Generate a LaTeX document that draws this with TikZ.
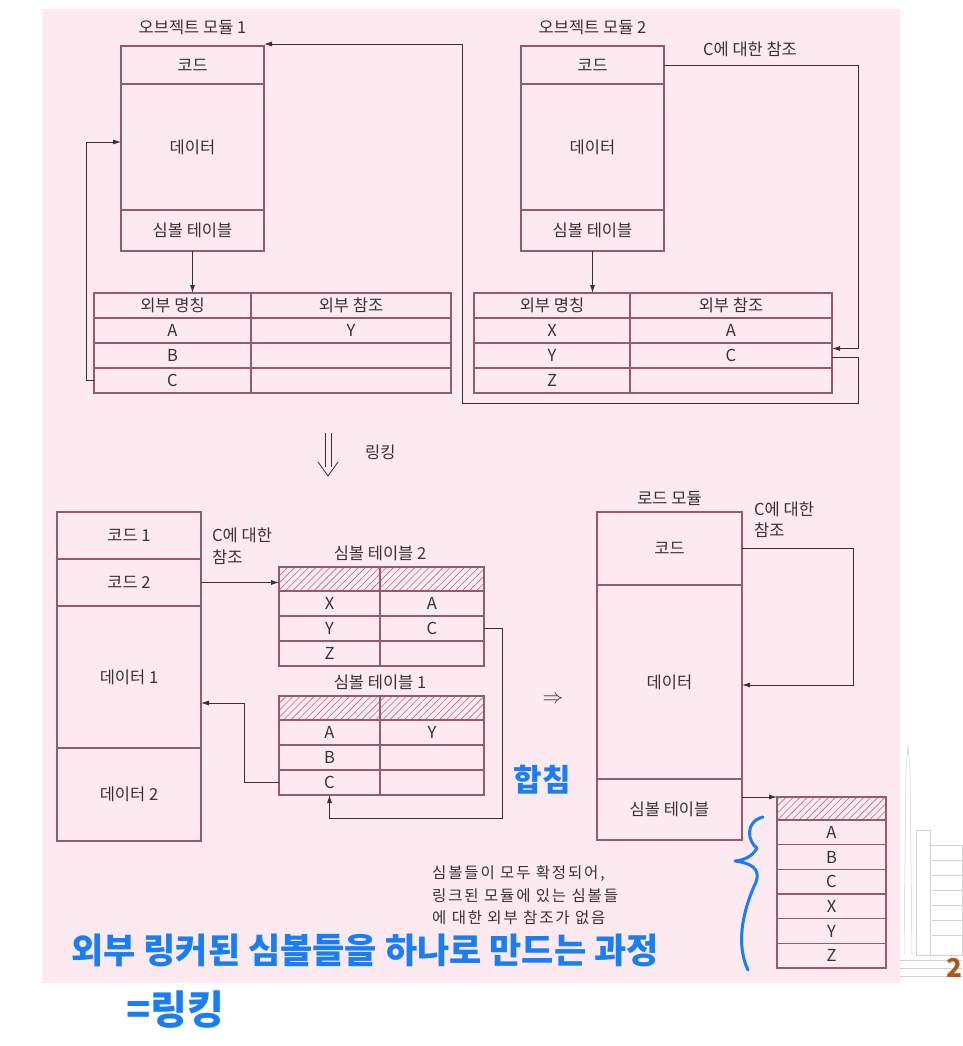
\documentclass[tikz,border=0pt]{standalone}
\usepackage{fontspec}
\setmainfont{Noto Sans CJK KR}
\newfontfamily\notefont{Noto Sans CJK KR}[LetterSpace=12]
\usetikzlibrary{arrows.meta,positioning,patterns.meta,calc}
\definecolor{bgpink}{RGB}{252,234,240}
\definecolor{boxcol}{RGB}{150,90,110}
\definecolor{conncol}{RGB}{55,50,55}
\definecolor{txtcol}{RGB}{55,50,55}
\definecolor{handblue}{RGB}{25,125,245}
\definecolor{hatchcol}{RGB}{170,110,135}
\definecolor{pagecol}{RGB}{175,85,25}
\newcommand\lblfont{\fontsize{16.5pt}{21pt}\selectfont}

\begin{document}
\begin{tikzpicture}[x=1pt, y=-1pt,
  sect/.style={draw=boxcol, line width=1.4pt, inner sep=0pt, outer sep=0pt,
               minimum width=#1, font=\lblfont, text=txtcol},
  sect/.default=143pt,
  hatch/.style={sect=#1, minimum height=24pt,
                pattern={Lines[angle=45,distance=5pt,line width=0.6pt]},
                pattern color=hatchcol},
  modtitle/.style={font=\lblfont, text=txtcol, inner sep=1pt},
  conn/.style={draw=conncol, line width=0.8pt, -{Latex[length=8pt,width=5pt]}},
  hand/.style={text=handblue, font=\bfseries\fontsize{#1}{#1}\selectfont, inner sep=0pt},
  >=Latex
]
  \useasboundingbox (0,0) rectangle (962,1046);
  \fill[white] (0,0) rectangle (962,1046);
  \fill[bgpink] (42,9) rectangle (900,983);

  % Object module 1
  \node[sect, minimum height=38pt] (m1code) at (192.5,65) {코드};
  \node[sect, minimum height=126pt, below=0pt of m1code] (m1data) {데이터};
  \node[sect, minimum height=41pt, below=0pt of m1data] (m1sym) {심볼 테이블};
  \node[modtitle, above=10pt of m1code] (m1title) {오브젝트 모듈 1};

  % Object module 2
  \node[sect, minimum height=38pt] (m2code) at (592.5,65) {코드};
  \node[sect, minimum height=126pt, below=0pt of m2code] (m2data) {데이터};
  \node[sect, minimum height=41pt, below=0pt of m2data] (m2sym) {심볼 테이블};
  \node[modtitle, above=10pt of m2code] (m2title) {오브젝트 모듈 2};

  % External name tables
  \foreach \a/\b [count=\r] in {외부 명칭/외부 참조, A/Y, B/{}, C/{}} {
    \node[sect=157pt, minimum height=25pt] (ta\r1) at (172.5,280.5+25*\r) {\a};
    \node[sect=200pt, minimum height=25pt] (ta\r2) at (351,280.5+25*\r) {\b};
  }
  \foreach \a/\b [count=\r] in {외부 명칭/외부 참조, X/A, Y/C, Z/{}} {
    \node[sect=156pt, minimum height=25pt] (tb\r1) at (552,280.5+25*\r) {\a};
    \node[sect=202pt, minimum height=25pt] (tb\r2) at (731,280.5+25*\r) {\b};
  }

  \draw[conn] (m1sym.south) -- (m1sym.south |- ta11.north);
  \draw[conn] (m2sym.south) -- (m2sym.south |- tb11.north);
  \coordinate (c1turn) at (86,0);
  \draw[conn] (ta41.west) -- (ta41.west -| c1turn) |- ([yshift=5pt]m1data.west);

  % Reference to C
  \coordinate (c2turn) at (858,403);
  \coordinate (c3turn) at (462,44);
  \node[modtitle] (c2label) at (750,49) {C에 대한 참조};
  \draw[conn] (m2code.east) -| ([yshift=7pt]tb32.east -| c2turn) -- ([yshift=7pt]tb32.east);
  \draw[conn] ([yshift=-2pt]tb32.east) -| (c2turn) -| (c3turn) -- ([yshift=2pt]m1code.north east);

  % Linking
  \coordinate (lk1) at (328,433);
  \coordinate (lk2) at (328,476);
  \draw[conncol, line width=0.8pt] ($(lk1)+(-3,0)$) -- ($(lk2)+(-3,-9)$);
  \draw[conncol, line width=0.8pt] ($(lk1)+(3,0)$) -- ($(lk2)+(3,-9)$);
  \draw[conncol, line width=0.8pt, line join=miter] ($(lk2)+(-10,-14)$) -- (lk2) -- ($(lk2)+(10,-14)$);
  \node[modtitle, anchor=west] (lklabel) at (364,452) {링킹};

  % Combined code and data
  \node[sect=144pt, minimum height=47pt] (lc1) at (129,535.5) {코드 1};
  \node[sect=144pt, minimum height=47pt, below=0pt of lc1] (lc2) {코드 2};
  \node[sect=144pt, minimum height=142pt, below=0pt of lc2] (ld1) {데이터 1};
  \node[sect=144pt, minimum height=93pt, below=0pt of ld1] (ld2) {데이터 2};
  \node[modtitle, anchor=west, align=left, font=\fontsize{16.5pt}{22pt}\selectfont] (c4label) at (211,546) {C에 대한\\참조};

  % Symbol table 2
  \node[hatch=101pt] (sbh1) at (329.5,579) {};
  \node[hatch=104pt] (sbh2) at (432,579) {};
  \foreach \a/\b [count=\r] in {X/A, Y/C, Z/{}} {
    \node[sect=101pt, minimum height=25pt] (sb\r1) at (329.5,578.5+25*\r) {\a};
    \node[sect=104pt, minimum height=25pt] (sb\r2) at (432,578.5+25*\r) {\b};
  }
  \node[modtitle, above=5pt of sbh1.north east] (sbtitle) {심볼 테이블 2};

  % Symbol table 1
  \node[hatch=101pt] (sah1) at (329.5,708) {};
  \node[hatch=104pt] (sah2) at (432,708) {};
  \foreach \a/\b [count=\r] in {A/Y, B/{}, C/{}} {
    \node[sect=101pt, minimum height=25pt] (sa\r1) at (329.5,707.5+25*\r) {\a};
    \node[sect=104pt, minimum height=25pt] (sa\r2) at (432,707.5+25*\r) {\b};
  }
  \node[modtitle, above=5pt of sah1.north east] (satitle) {심볼 테이블 1};

  \draw[conn] (lc2.east) -- (lc2.east -| sbh1.west);
  \coordinate (sbturn) at (502,818);
  \draw[conn] (sb22.east) -| (sbturn) -| (sa31.south);
  \coordinate (saturn) at (244,703);
  \draw[conn] (sa31.west) -| (saturn) -- (saturn -| ld1.east);

  \node[text=conncol, font=\fontsize{22pt}{22pt}\selectfont] (merge) at (553,700) {$\Rightarrow$};

  % Load module
  \node[sect=145pt, minimum height=73pt] (lmcode) at (669.5,548.5) {코드};
  \node[sect=145pt, minimum height=194pt, below=0pt of lmcode] (lmdata) {데이터};
  \node[sect=145pt, minimum height=61pt, below=0pt of lmdata] (lmsym) {심볼 테이블};
  \node[modtitle, above=5pt of lmcode] (lmtitle) {로드 모듈};
  \node[modtitle, anchor=west, align=left, font=\fontsize{16.5pt}{21pt}\selectfont] (c5label) at (753,520) {C에 대한\\참조};
  \coordinate (lmturn) at (853,685);
  \draw[conn] (lmcode.east) -| (lmturn) -- (lmturn -| lmdata.east);

  % Final symbol table
  \node[hatch=109pt, minimum height=23pt] (fh) at (831.5,808.5) {};
  \foreach \s [count=\r] in {A,B,C,X,Y,Z} {
    \node[sect=109pt, minimum height=24.67pt] (f\r) at (831.5,807.67+24.67*\r) {\s};
  }
  \draw[conn] (lmsym.east |- fh.north) -- (fh.north west);

  \node[anchor=west, align=left, inner sep=0pt, text=txtcol,
        font=\notefont\fontsize{15.5pt}{22.5pt}\selectfont] (note) at (432,895.5)
    {심볼들이 모두 확정되어,\\링크된 모듈에 있는 심볼들\\에 대한 외부 참조가 없음};

  % Handwritten notes
  \node[hand=31pt] (hw3) at (542,780) {합침};
  \node[hand=35pt] (hw1) at (365,950) {외부 링커된 심볼들을 하나로 만드는 과정};
  \node[hand=40pt] (hw2) at (175,1010) {=링킹};
  \draw[handblue, line width=3pt, line cap=round, line join=round]
    (763,817) .. controls (744,822) and (748,842) .. (757,848)
    .. controls (752,857) and (744,860) .. (735,861)
    .. controls (750,863) and (761,868) .. (756,882)
    .. controls (742,912) and (736,945) .. (748,970);

  % Page corner
  \begin{scope}[draw=gray!35, line width=0.5pt]
    \draw (904,955) -- (906,770) -- (908,745) -- (910,770) -- (912,955);
    \draw (916,955) rectangle (930,830);
    \draw (930,955) rectangle (962,845);
    \foreach \y in {860,875,...,945} \draw (932,\y) -- (962,\y);
    \foreach \y in {960,968,976} \draw (900,\y) -- (962,\y);
  \end{scope}
  \node[text=pagecol, font=\bfseries\fontsize{26pt}{26pt}\selectfont] (pagenum) at (954,968) {2};
\end{tikzpicture}
\end{document}
